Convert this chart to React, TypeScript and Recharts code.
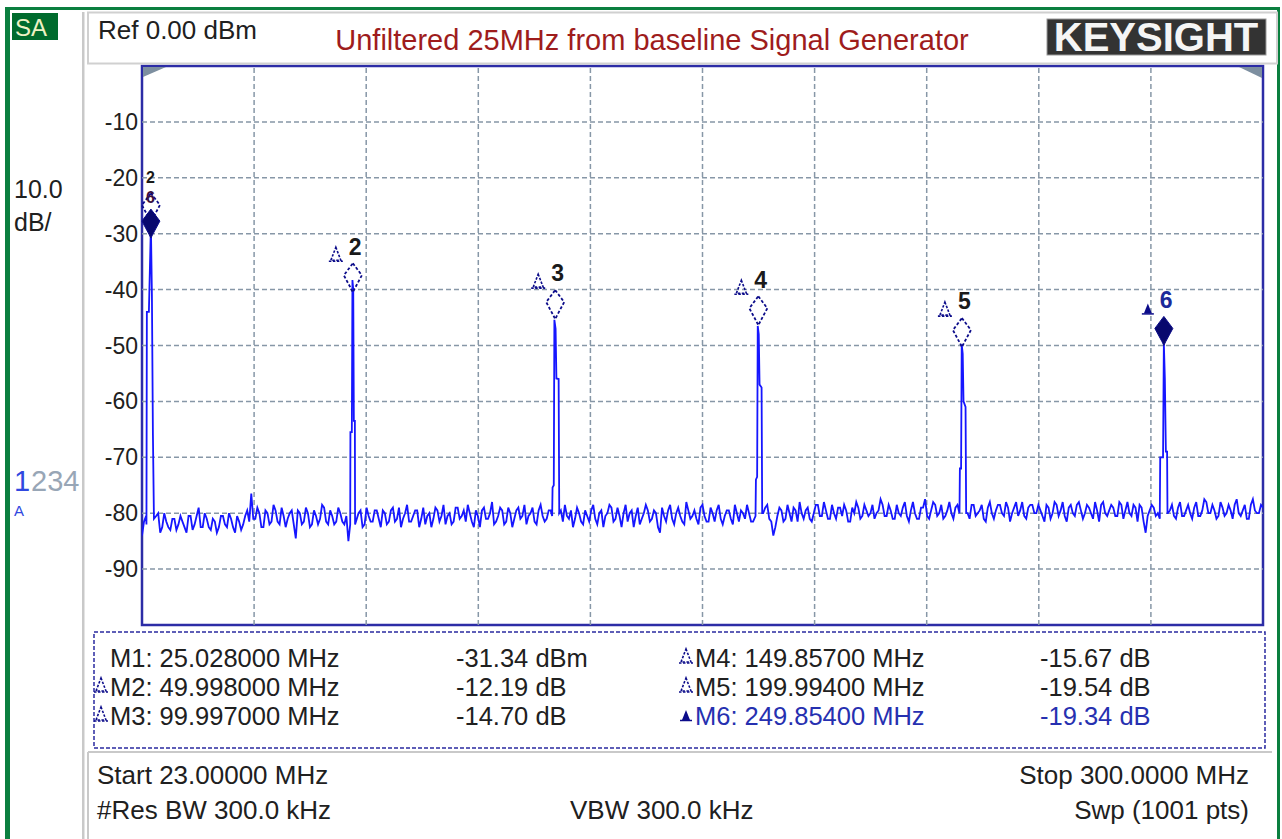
import React from "react";
import {
  ComposedChart,
  Line,
  XAxis,
  YAxis,
  ReferenceLine,
  ReferenceArea,
  ReferenceDot,
} from "recharts";

const START_MHZ = 23;
const STOP_MHZ = 300;

// noise floor, one reading per MHz from 23 to 300 MHz (dBm)
const noiseDb = [
  -84.0, -80.5, -81.0, -82.5, -80.0, -82.5, -81.5, -83.0, -81.0, -82.0,
  -81.5, -83.5, -80.5, -82.0, -79.0, -82.5, -81.0, -83.0, -81.5, -82.5,
  -80.5, -82.5, -81.0, -83.5, -81.5, -82.0, -79.5, -76.5, -81.0, -80.0,
  -82.5, -80.0, -81.5, -79.5, -82.0, -80.5, -81.0, -79.5, -84.5, -80.0,
  -81.5, -80.0, -82.0, -80.5, -81.0, -79.0, -82.0, -80.5, -81.5, -80.0,
  -82.0, -85.0, -80.0, -81.0, -79.5, -82.0, -80.5, -81.5, -79.5, -82.5,
  -80.0, -81.5, -79.0, -81.0, -82.5, -80.0, -81.5, -80.5, -79.5, -81.0,
  -82.0, -80.0, -81.0, -79.5, -80.5, -82.0, -80.0, -81.5, -79.0, -80.5,
  -81.5, -80.0, -82.5, -80.5, -79.5, -81.0, -80.0, -82.0, -80.5, -79.5,
  -81.5, -80.0, -81.0, -79.0, -80.5, -82.0, -80.0, -81.5, -79.5, -80.5,
  -81.0, -79.5, -80.5, -80.0, -81.5, -80.5, -79.5, -81.0, -80.0, -82.0,
  -80.5, -79.5, -81.0, -80.0, -82.5, -80.0, -79.0, -81.0, -80.5, -80.0,
  -81.5, -79.5, -80.5, -82.0, -80.0, -79.5, -81.0, -80.0, -83.5, -80.5,
  -79.5, -81.0, -80.0, -80.5, -82.0, -79.5, -80.5, -81.0, -79.0, -80.5,
  -81.5, -80.0, -79.5, -81.0, -80.5, -79.5, -82.0, -80.0, -79.5, -81.0,
  -80.0, -81.5, -80.5, -80.0, -79.0, -81.0, -84.0, -80.5, -79.5, -81.0,
  -80.0, -79.0, -81.5, -80.0, -79.5, -81.0, -80.0, -78.5, -80.5, -79.5,
  -81.0, -80.0, -79.0, -80.5, -79.5, -81.5, -80.0, -79.0, -80.5, -79.5,
  -80.0, -81.0, -79.5, -78.5, -80.5, -79.5, -81.0, -80.0, -79.0, -80.5,
  -79.5, -80.0, -81.0, -79.0, -80.5, -79.5, -78.5, -80.0, -81.0, -79.5,
  -80.0, -79.0, -80.5, -79.5, -80.0, -78.5, -80.5, -79.5, -81.0, -79.0,
  -80.0, -79.5, -78.5, -80.5, -79.0, -80.0, -78.0, -79.5, -80.5, -79.0,
  -78.5, -80.0, -79.5, -81.5, -79.0, -80.0, -78.5, -79.5, -80.5, -79.0,
  -80.0, -78.5, -79.5, -80.0, -79.0, -81.0, -79.5, -78.5, -80.0, -79.5,
  -79.0, -80.5, -78.5, -79.5, -80.0, -78.5, -81.5, -79.0, -83.5, -79.5,
  -79.0, -80.0, -79.5, -80.5, -79.5, -80.5, -79.0, -80.5, -79.5, -80.0,
  -79.0, -80.5, -79.5, -78.0, -80.0, -79.5, -80.5, -79.0, -80.0, -79.5,
  -78.5, -80.0, -79.5, -81.0, -78.5, -79.5, -80.0, -79.0,
];

// noise floor readings in between, from 23.5 to 299.5 MHz (dBm)
const noiseHalfDb = [
  -81.5, -83.0, -82.0, -80.5, -83.5, -80.0, -82.5, -81.0, -83.0, -80.5,
  -82.5, -80.5, -83.0, -80.5, -82.5, -80.0, -82.5, -81.0, -83.5, -80.5,
  -82.0, -80.0, -82.5, -80.5, -83.0, -80.5, -81.5, -81.0, -79.0, -82.5,
  -79.5, -82.0, -78.5, -81.5, -79.0, -82.5, -80.0, -82.0, -79.5, -82.0,
  -79.0, -82.5, -79.5, -82.0, -78.5, -81.5, -79.5, -82.0, -79.0, -81.5,
  -80.5, -82.0, -81.0, -80.0, -82.5, -79.0, -81.5, -79.5, -81.0, -79.5,
  -82.0, -79.5, -81.5, -79.0, -81.0, -78.5, -81.5, -79.5, -82.5, -79.0,
  -80.5, -82.5, -79.0, -81.5, -78.5, -80.5, -82.0, -79.0, -81.0, -79.5,
  -78.5, -81.5, -79.5, -82.5, -79.0, -81.0, -78.0, -81.5, -79.0, -82.0,
  -79.0, -82.5, -79.5, -81.0, -78.5, -80.5, -79.0, -82.0, -78.5, -81.5,
  -79.5, -81.0, -80.0, -79.5, -78.5, -81.0, -82.5, -79.0, -81.5, -79.5,
  -81.5, -78.5, -82.0, -79.5, -80.5, -78.5, -81.5, -79.0, -82.5, -78.5,
  -80.0, -82.5, -79.0, -81.0, -78.5, -81.5, -79.5, -82.5, -79.0, -81.5,
  -78.5, -82.0, -79.0, -81.5, -78.0, -81.0, -79.5, -82.0, -78.5, -81.5,
  -79.0, -81.5, -78.5, -82.0, -79.5, -81.0, -78.5, -81.5, -80.0, -78.5,
  -81.5, -79.5, -81.0, -80.0, -78.5, -81.5, -82.5, -79.0, -81.5, -78.5,
  -81.5, -79.5, -78.0, -81.0, -79.0, -81.5, -78.5, -80.5, -78.0, -81.0,
  -78.5, -81.0, -79.0, -78.5, -81.5, -79.0, -78.0, -81.0, -78.5, -80.5,
  -78.5, -80.0, -77.5, -80.5, -78.5, -81.0, -78.5, -80.5, -78.0, -81.5,
  -78.0, -81.0, -79.0, -77.5, -81.0, -78.0, -80.5, -78.5, -80.5, -78.0,
  -81.0, -78.5, -80.5, -79.0, -81.0, -78.5, -80.0, -78.5, -81.5, -78.0,
  -81.0, -78.5, -80.0, -78.0, -81.5, -79.0, -80.5, -78.0, -81.0, -78.5,
  -80.0, -78.5, -80.5, -78.5, -81.0, -78.0, -80.5, -78.0, -81.5, -78.5,
  -80.5, -78.0, -81.0, -78.5, -80.0, -78.0, -81.5, -78.0, -80.5, -78.5,
  -80.5, -78.0, -81.0, -78.0, -80.5, -79.0, -78.5, -81.5, -80.5, -78.5,
  -80.5, -81.0, -79.5, -80.0, -78.5, -81.0, -78.0, -80.5, -78.5, -81.0,
  -78.0, -80.5, -77.5, -80.0, -78.5, -81.0, -78.0, -80.5, -78.5, -81.0,
  -77.5, -80.5, -78.5, -81.0, -77.5, -80.0, -78.5,
];

// harmonic peaks: [MHz, dBm]
const peak1 = [[24.1, -82], [24.2, -44], [24.7, -44], [25.2, -28.5], [25.45, -41], [25.7, -66], [25.95, -81]];
const peak2 = [[74.45, -82], [74.5, -65.5], [74.85, -65.5], [75.0, -38.3], [75.2, -40], [75.35, -63.5], [75.6, -63.5], [75.65, -82]];
const peak3 = [[124.35, -80.5], [124.45, -75.4], [124.75, -75], [124.9, -45.4], [125.2, -47], [125.4, -55.9], [125.95, -56], [126.1, -80]];
const peak4 = [[174.6, -80.5], [174.7, -74], [175.0, -73.5], [175.15, -46.5], [175.4, -48], [175.6, -57], [176.1, -57.5], [176.25, -80]];
const peak5 = [[225.0, -80], [225.1, -72], [225.4, -72], [225.55, -49.8], [225.8, -51.5], [226.0, -60], [226.5, -61], [226.65, -80]];
const peak6 = [[274.5, -80], [274.6, -70], [275.3, -70], [275.5, -49.6], [275.75, -56], [276.0, -69], [276.3, -69], [276.4, -80]];
const peakCenters = [25.2, 75.1, 125.1, 175.3, 225.6, 275.5];

const yTicks = [-10, -20, -30, -40, -50, -60, -70, -80, -90];
const gridFreqs = [50.7, 78.4, 106.1, 133.8, 161.5, 189.2, 216.9, 244.6, 272.3];

const markers = [
  { id: "1", f: 25.2, db: -28.1, active: true },
  { id: "2", f: 75.1, db: -37.8, active: false },
  { id: "3", f: 125.1, db: -42.6, active: false },
  { id: "4", f: 175.3, db: -43.7, active: false },
  { id: "5", f: 225.6, db: -47.6, active: false },
  { id: "6", f: 275.5, db: -47.3, active: true },
];

const markerNames = ["M1:", "M2:", "M3:", "M4:", "M5:", "M6:"];
const markerFreqs = ["25.028000 MHz", "49.998000 MHz", "99.997000 MHz", "149.85700 MHz", "199.99400 MHz", "249.85400 MHz"];
const markerValues = ["-31.34 dBm", "-12.19 dB", "-14.70 dB", "-15.67 dB", "-19.54 dB", "-19.34 dB"];

const noisePoints = [
  ...noiseDb.map((v, i) => ({ f: START_MHZ + i, v })),
  ...noiseHalfDb.map((v, i) => ({ f: START_MHZ + 0.5 + i, v })),
].filter((p) => peakCenters.every((c) => Math.abs(p.f - c) >= 1));
const peakPoints = [peak1, peak2, peak3, peak4, peak5, peak6].flat().map(([f, v]) => ({ f, v }));
const traceData = [...noisePoints, ...peakPoints].sort((a, b) => a.f - b.f);

const FONT = '"Liberation Sans", Arial, Helvetica, sans-serif';
const NAVY = "#0c0c8a";
const TEXT = "#202020";

const T = ({ x, y, size = 26, fill = TEXT, anchor = "start", weight = "normal", children }: any) => (
  <text x={x} y={y + size * 0.358} fontSize={size} fill={fill} textAnchor={anchor} fontWeight={weight} fontFamily={FONT}>
    {children}
  </text>
);

const DeltaIcon = ({ x, y, filled }: any) =>
  filled ? (
    <g>
      <path d={`M${x + 6},${y + 3} L${x + 10},${y + 13} L${x + 2},${y + 13} Z`} fill={NAVY} />
      <line x1={x} y1={y + 13.5} x2={x + 12} y2={y + 13.5} stroke={NAVY} strokeWidth={1.5} />
    </g>
  ) : (
    <g fill="none" stroke={NAVY} strokeWidth={1.6} strokeDasharray="2.5 1.5">
      <path d={`M${x + 6},${y} L${x + 11},${y + 13} L${x + 1},${y + 13} Z`} />
      <line x1={x - 1} y1={y + 14} x2={x + 13} y2={y + 14} />
    </g>
  );

const Diamond = ({ cx, cy, filled }: any) => (
  <path
    d={`M${cx},${cy - 14} L${cx + 9},${cy - 2} L${cx + 2},${cy + 11} L${cx},${cy + 15} L${cx - 2},${cy + 11} L${cx - 9},${cy - 2} Z`}
    fill={filled ? "#08086e" : "none"}
    stroke={NAVY}
    strokeWidth={filled ? 1 : 1.8}
    strokeDasharray={filled ? undefined : "3 2"}
  />
);

const MarkerGlyph = ({ cx, cy, m }: any) => {
  if (cx == null || cy == null) return null;
  if (m.id === "1") {
    return (
      <g>
        <Diamond cx={cx} cy={cy - 16} filled={false} />
        <Diamond cx={cx} cy={cy} filled />
        <T x={cx - 5} y={cy - 46} size={16} weight="bold" fill="#1a1a1a">2</T>
        <T x={cx - 5} y={cy - 26} size={16} weight="bold" fill="#3a1040">6</T>
      </g>
    );
  }
  return (
    <g>
      <Diamond cx={cx} cy={cy} filled={m.active} />
      <DeltaIcon x={m.active ? cx - 22 : cx - 23} y={cy - 30} filled={m.active} />
      <T x={cx - 4} y={cy - 31} size={23} weight="bold" fill={m.active ? "#1c2a9a" : "#1a1a1a"}>
        {m.id}
      </T>
    </g>
  );
};

const renderYTick = (props: any) => (
  <text x={138} y={props.y + 8} textAnchor="end" fontSize={23} fill={TEXT} fontFamily={FONT}>
    {props.payload.value}
  </text>
);

const rowY = [658, 687, 716];

const Overlay = () => (
  <svg width={1282} height={839} style={{ position: "absolute", left: 0, top: 0, pointerEvents: "none" }}>
    {/* instrument frame */}
    <rect x={7.5} y={8.5} width={1271} height={840} fill="none" stroke="#0b7f3f" strokeWidth={3} />
    <rect x={5} y={7} width={5} height={832} fill="#0b7f3f" />
    <rect x={12} y={13} width={46} height={27} fill="#006b2d" />
    <T x={15} y={27} size={24} fill="#eef2c4">SA</T>
    <rect x={82} y={12} width={2.5} height={827} fill="#c9c9c9" />

    {/* header */}
    <rect x={88} y={12.5} width={1189} height={51} fill="none" stroke="#d0d0d0" strokeWidth={2} />
    <T x={98} y={30}>Ref 0.00 dBm</T>
    <T x={652} y={40} size={29} fill="#9e1c1c" anchor="middle">
      Unfiltered 25MHz from baseline Signal Generator
    </T>
    <rect x={1047} y={19} width={219} height={36} fill="#333333" stroke="#9a9a9a" strokeWidth={1} />
    <T x={1156} y={37} size={40} weight="bold" fill="#f5f5f5" anchor="middle">KEYSIGHT</T>

    {/* plot corner flags */}
    <path d="M143,67 L166,67 L143,77 Z" fill="#7d8fa0" />
    <path d="M1239,67 L1262,67 L1262,78 Z" fill="#7d8fa0" />

    {/* left panel */}
    <T x={14} y={189} size={25}>10.0</T>
    <T x={14} y={222} size={25}>dB/</T>
    <T x={14} y={481} size={29} fill="#3048e0">1</T>
    <T x={31} y={481} size={29} fill="#98a6b6">234</T>
    <T x={14} y={511} size={15} fill="#3048e0">A</T>

    {/* marker table */}
    <rect x={94} y={632} width={1171} height={116} fill="none" stroke="#2a2aa0" strokeWidth={1.5} strokeDasharray="4 2" />
    {markerNames.map((name, i) => {
      const col = i < 3 ? 0 : 1;
      const y = rowY[i % 3];
      const x0 = col === 0 ? 110 : 695;
      const xv = col === 0 ? 456 : 1040;
      const color = i === 5 ? "#2630b0" : TEXT;
      return (
        <g key={name}>
          {i > 0 && <DeltaIcon x={x0 - 15} y={y - 9} filled={i === 5} />}
          <T x={x0} y={y} size={25.5} fill={color}>{`${name} ${markerFreqs[i]}`}</T>
          <T x={xv} y={y} size={25.5} fill={color}>{markerValues[i]}</T>
        </g>
      );
    })}

    {/* settings bar */}
    <line x1={88} y1={752} x2={1272} y2={752} stroke="#c9c9c9" strokeWidth={2} />
    <line x1={88} y1={752} x2={88} y2={839} stroke="#c9c9c9" strokeWidth={2} />
    <T x={97} y={775}>Start 23.00000 MHz</T>
    <T x={1249} y={775} anchor="end">Stop 300.0000 MHz</T>
    <T x={97} y={810}>#Res BW 300.0 kHz</T>
    <T x={570} y={810}>VBW 300.0 kHz</T>
    <T x={1249} y={810} anchor="end">Swp (1001 pts)</T>
  </svg>
);

export default function App() {
  return (
    <div style={{ position: "absolute", left: 0, top: 0, width: 1282, height: 839, background: "#fff", overflow: "hidden" }}>
      <div style={{ position: "absolute", left: 0, top: 0 }}>
        <ComposedChart
          width={1282}
          height={839}
          data={traceData}
          margin={{ top: 66, right: 19, bottom: 214, left: 82 }}
        >
          <XAxis dataKey="f" type="number" domain={[START_MHZ, STOP_MHZ]} hide allowDataOverflow />
          <YAxis
            domain={[-100, 0]}
            ticks={yTicks}
            interval={0}
            width={60}
            axisLine={false}
            tickLine={false}
            tick={renderYTick}
            allowDataOverflow
          />
          {yTicks.map((y) => (
            <ReferenceLine key={`h${y}`} y={y} stroke="#8797a7" strokeWidth={1.5} strokeDasharray="5 3" />
          ))}
          {gridFreqs.map((f) => (
            <ReferenceLine key={`v${f}`} x={f} stroke="#8797a7" strokeWidth={1.5} strokeDasharray="5 3" />
          ))}
          <ReferenceArea x1={START_MHZ} x2={STOP_MHZ} y1={-100} y2={0} fill="none" stroke="#2c2ca6" strokeWidth={2.5} />
          <Line
            type="linear"
            dataKey="v"
            stroke="#1616ff"
            strokeWidth={1.8}
            dot={false}
            isAnimationActive={false}
          />
          {markers.map((m) => (
            <ReferenceDot
              key={m.id}
              x={m.f}
              y={m.db}
              r={10}
              shape={(p: any) => <MarkerGlyph cx={p.cx} cy={p.cy} m={m} />}
            />
          ))}
        </ComposedChart>
      </div>
      <Overlay />
    </div>
  );
}
